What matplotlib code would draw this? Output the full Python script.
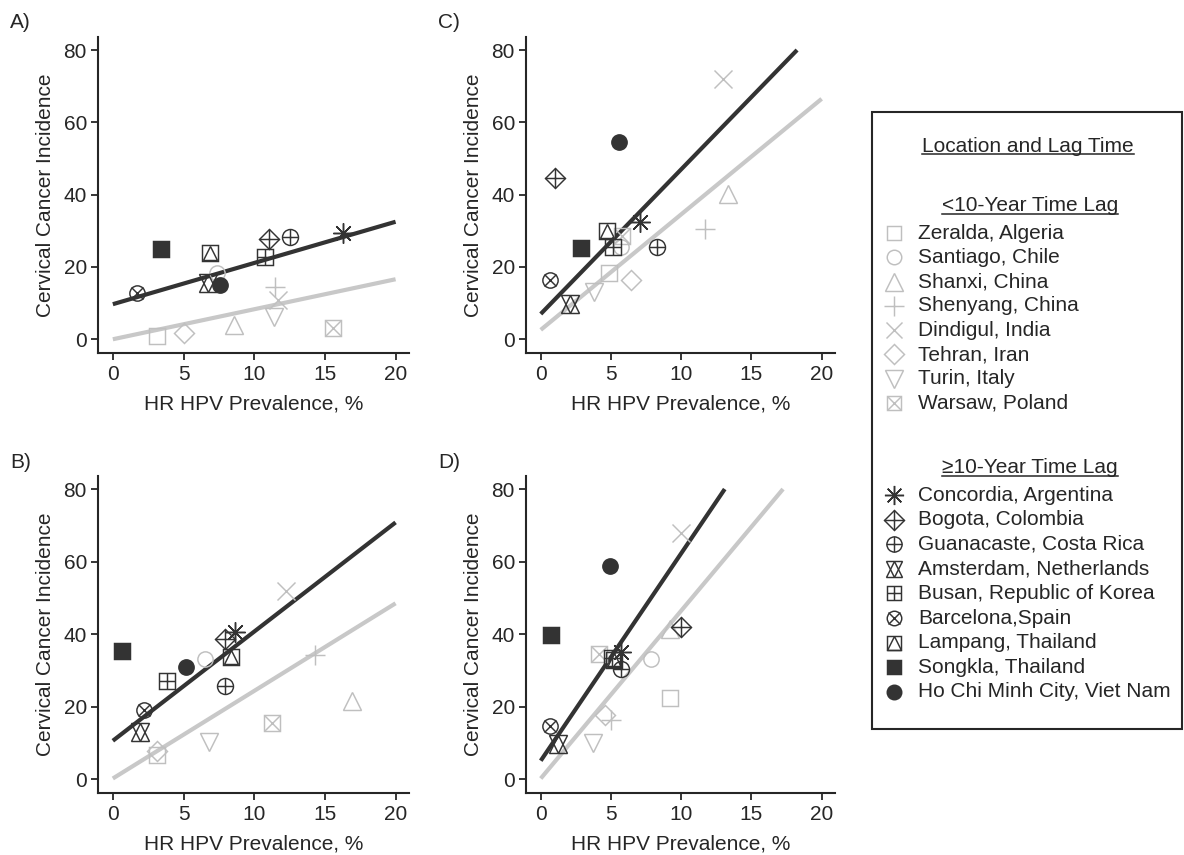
import numpy as np
import matplotlib
matplotlib.use("Agg")
import matplotlib.pyplot as plt
from matplotlib.patches import Rectangle

plt.rcParams['font.family'] = ['Liberation Sans', 'DejaVu Sans']
plt.rcParams['font.size'] = 15

INK = '#262626'     # texte et axes
DARK = '#333333'    # >=10 ans
LIGHT = '#bfbfbf'   # <10 ans
LIGHTLINE = '#c8c8c8'

# lieux (ordre de la légende)
short_lag = ["Zeralda, Algeria", "Santiago, Chile", "Shanxi, China", "Shenyang, China",
             "Dindigul, India", "Tehran, Iran", "Turin, Italy", "Warsaw, Poland"]
long_lag = ["Concordia, Argentina", "Bogota, Colombia", "Guanacaste, Costa Rica",
            "Amsterdam, Netherlands", "Busan, Republic of Korea", "Barcelona,Spain",
            "Lampang, Thailand", "Songkla, Thailand", "Ho Chi Minh City, Viet Nam"]

# panneau A
short_x_A = [3.1, 7.4, 8.6, 11.5, 11.7, 5.0, 11.4, 15.6]
short_y_A = [1.0, 18.3, 4.0, 14.5, 10.9, 1.8, 6.1, 3.0]
long_x_A = [16.3, 11.05, 12.5, 6.75, 10.75, 1.7, 6.85, 3.4, 7.55]
long_y_A = [29.3, 27.6, 28.2, 15.6, 22.7, 12.9, 23.9, 24.9, 15.0]
fit_short_A = ([0, 20], [0.0, 16.6])
fit_long_A = ([0, 20], [9.7, 32.5])

# panneau B
short_x_B = [3.1, 6.55, 16.9, 14.3, 12.25, 3.1, 6.8, 11.25]
short_y_B = [6.8, 33.1, 21.5, 34.3, 52.0, 7.7, 10.3, 15.4]
long_x_B = [8.65, 7.9, 7.9, 1.95, 3.85, 2.2, 8.35, 0.65, 5.15]
long_y_B = [40.5, 38.6, 25.8, 13.1, 27.1, 19.2, 33.6, 35.4, 31.0]
fit_short_B = ([0, 20], [0.2, 48.5])
fit_long_B = ([0, 20], [10.6, 70.8])

# panneau C
short_x_C = [4.85, 5.7, 13.3, 11.7, 12.95, 6.4, 3.8, 5.8]
short_y_C = [18.2, 25.5, 40.2, 30.5, 72.0, 16.4, 13.2, 28.5]
long_x_C = [7.1, 1.0, 8.3, 2.1, 5.15, 0.65, 4.75, 2.9, 5.6]
long_y_C = [32.3, 44.7, 25.6, 9.8, 25.4, 16.4, 30.0, 25.2, 54.5]
fit_short_C = ([0, 20], [2.6, 66.5])
fit_long_C = ([0, 18.25], [7.0, 80.0])

# panneau D
short_x_D = [9.2, 7.85, 9.2, 5.0, 10.0, 4.55, 3.75, 4.15]
short_y_D = [22.5, 33.2, 41.5, 16.3, 67.9, 17.7, 9.9, 34.6]
long_x_D = [5.7, 9.95, 5.7, 1.25, 5.05, 0.65, 5.2, 0.7, 4.95]
long_y_D = [35.0, 42.1, 30.5, 9.7, 33.5, 14.6, 33.0, 39.8, 58.7]
fit_short_D = ([0, 17.25], [0.2, 80.0])
fit_long_D = ([0, 13.1], [5.1, 80.0])

x_ticks = [0, 5, 10, 15, 20]
y_ticks = [0, 20, 40, 60, 80]

# symboles composés : (marker, taille, plein)
STYLE = {
    "Zeralda, Algeria": [('s', 11, False)],
    "Santiago, Chile": [('o', 11, False)],
    "Shanxi, China": [('^', 13.5, False)],
    "Shenyang, China": [('+', 15, False)],
    "Dindigul, India": [('x', 12.5, False)],
    "Tehran, Iran": [('D', 10.5, False)],
    "Turin, Italy": [('v', 13.5, False)],
    "Warsaw, Poland": [('s', 11, False), ('x', 11, False)],
    "Concordia, Argentina": [((8, 2, 0), 14.5, False)],
    "Bogota, Colombia": [('D', 10.5, False), ('+', 14.8, False)],
    "Guanacaste, Costa Rica": [('o', 11.5, False), ('+', 11.5, False)],
    "Amsterdam, Netherlands": [('^', 12.5, False), ('v', 12.5, False)],
    "Busan, Republic of Korea": [('s', 11, False), ('+', 11, False)],
    "Barcelona,Spain": [('o', 11, False), ('x', 9, False)],
    "Lampang, Thailand": [('s', 11, False), ('^', 10.5, False)],
    "Songkla, Thailand": [('s', 11, True)],
    "Ho Chi Minh City, Viet Nam": [('o', 11, True)],
}


def symbole(ax, x, y, nom, col, k=1.0, z=4):
    for m, s, plein in STYLE[nom]:
        ax.plot([x], [y], ls='none', marker=m, ms=s * k, mew=1.05,
                mec=col, mfc=col if plein else 'none', zorder=z, clip_on=False)


fig = plt.figure(figsize=(11.84, 8.55), dpi=100)
W, H = 1184., 855.

panneaux = [
    ("A)", (98, 409, 37, 353), short_x_A, short_y_A, long_x_A, long_y_A, fit_short_A, fit_long_A),
    ("B)", (98, 409, 476, 793), short_x_B, short_y_B, long_x_B, long_y_B, fit_short_B, fit_long_B),
    ("C)", (526, 835, 37, 353), short_x_C, short_y_C, long_x_C, long_y_C, fit_short_C, fit_long_C),
    ("D)", (526, 835, 476, 793), short_x_D, short_y_D, long_x_D, long_y_D, fit_short_D, fit_long_D),
]

for lab, (l, r, t, b), sx, sy, lx, ly, fs, fl in panneaux:
    ax = fig.add_axes([l / W, 1 - b / H, (r - l) / W, (b - t) / H])
    ax.plot(fs[0], fs[1], color=LIGHTLINE, lw=3.0, solid_capstyle='butt', zorder=2)
    ax.plot(fl[0], fl[1], color=DARK, lw=3.0, solid_capstyle='butt', zorder=2)
    for nom, x, y in zip(short_lag, sx, sy):
        symbole(ax, x, y, nom, LIGHT, z=3)
    for nom, x, y in zip(long_lag, lx, ly):
        symbole(ax, x, y, nom, DARK, z=4)
    ax.set_xlim(-1.05, 20.95)
    ax.set_ylim(-3.8, 83.6)
    ax.set_xticks(x_ticks)
    ax.set_yticks(y_ticks)
    for s in ['top', 'right']:
        ax.spines[s].set_visible(False)
    for s in ['left', 'bottom']:
        ax.spines[s].set_linewidth(1.5)
        ax.spines[s].set_color(INK)
    ax.tick_params(length=5, width=1.3, color=INK, labelcolor=INK, labelsize=15)
    ax.tick_params(axis='x', pad=3.5)
    ax.tick_params(axis='y', pad=3)
    ax.set_xlabel("HR HPV Prevalence, %", color=INK, fontsize=15, labelpad=8)
    ax.set_ylabel("Cervical Cancer Incidence", color=INK, fontsize=15, labelpad=6)
    fig.text((l - 88) / W, 1 - (t - 14) / H, lab, fontsize=15, color=INK,
             ha='left', va='center')

# légende dessinée à la main, en coordonnées pixels
lg = fig.add_axes([0, 0, 1, 1])
lg.set_xlim(0, W)
lg.set_ylim(H, 0)
lg.axis('off')
lg.patch.set_visible(False)
lg.add_patch(Rectangle((872, 112), 1182 - 872, 729 - 112, fill=False, ec=INK, lw=1.5))

titres = [(1028, 146, "Location and Lag Time"),
          (1030, 205, "<10-Year Time Lag"),
          (1030, 467, "\u226510-Year Time Lag")]
tt = [lg.text(x, y, s, ha='center', va='center', color=INK, fontsize=15) for x, y, s in titres]

y0 = 233
for i, nom in enumerate(short_lag):
    yy = y0 + i * 24.3
    symbole(lg, 894, yy, nom, LIGHT, k=0.95)
    lg.text(918, yy, nom, va='center', ha='left', color=INK, fontsize=15)
y0 = 495
for i, nom in enumerate(long_lag):
    yy = y0 + i * 24.6
    symbole(lg, 894, yy, nom, DARK, k=0.95)
    lg.text(918, yy, nom, va='center', ha='left', color=INK, fontsize=15)

# soulignement des titres
fig.canvas.draw()
inv = lg.transData.inverted()
for t in tt:
    bb = t.get_window_extent()
    (x1, y1), (x2, y2) = inv.transform([[bb.x0, bb.y0], [bb.x1, bb.y1]])
    lg.plot([x1, x2], [y1 - 1, y1 - 1], color=INK, lw=1.1)

fig.savefig("out.png", dpi=100)
